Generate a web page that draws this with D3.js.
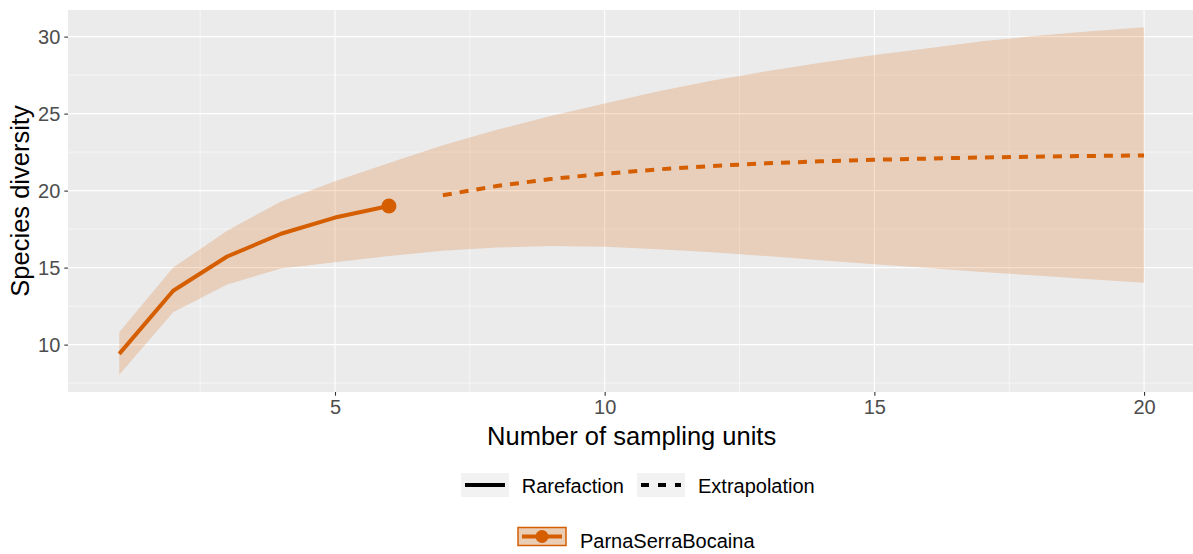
<!DOCTYPE html>
<html>
<head>
<meta charset="utf-8">
<script src="https://cdn.jsdelivr.net/npm/d3@7"></script>
<style>
  html, body { margin: 0; padding: 0; background: #ffffff; }
  svg { display: block; font-family: "Liberation Sans", Arial, Helvetica, sans-serif; }
</style>
</head>
<body>
<svg id="chart" width="1193" height="554"></svg>
<script>
// Sample-based rarefaction / extrapolation curve (iNEXT style)
const samplingUnits = [1, 2, 3, 4, 5, 6, 7, 8, 9, 10, 11, 12, 13, 14, 15, 16, 17, 18, 19, 20];
const lowerCI = [8.05, 12.1, 13.9, 14.95, 15.35, 15.75, 16.1, 16.3, 16.4, 16.35, 16.2, 16.0, 15.75, 15.48, 15.22, 14.97, 14.72, 14.48, 14.25, 14.02];
const upperCI = [10.8, 15.0, 17.4, 19.3, 20.6, 21.8, 22.95, 23.95, 24.85, 25.65, 26.45, 27.15, 27.75, 28.3, 28.8, 29.25, 29.7, 30.05, 30.35, 30.6];

const rarefactionUnits = [1, 2, 3, 4, 5, 6];
const rarefactionDiversity = [9.4, 13.5, 15.72, 17.2, 18.25, 19.0];

const extrapolationUnits = [7, 8, 9, 10, 11, 12, 13, 14, 15, 16, 17, 18, 19, 20];
const extrapolationDiversity = [19.7, 20.3, 20.75, 21.1, 21.38, 21.6, 21.77, 21.9, 22.0, 22.08, 22.15, 22.2, 22.25, 22.28];

const observedUnits = [6];
const observedDiversity = [19.0];

const xTicks = [5, 10, 15, 20];
const yTicks = [10, 15, 20, 25, 30];
const xMinor = [2.5, 7.5, 12.5, 17.5];
const yMinor = [7.5, 12.5, 17.5, 22.5, 27.5];

const siteName = "ParnaSerraBocaina";
const methodLabels = ["Rarefaction", "Extrapolation"];

const orange = "#D55E00";

const svg = d3.select("#chart");
const panel = { left: 68, right: 1195.3, top: 10, bottom: 392 };

// ggplot-like 5% expansion on both scales
function expand(ext) {
  const pad = (ext[1] - ext[0]) * 0.05;
  return [ext[0] - pad, ext[1] + pad];
}
const x = d3.scaleLinear()
  .domain(expand(d3.extent(samplingUnits)))
  .range([panel.left, panel.right]);
const y = d3.scaleLinear()
  .domain(expand([d3.min(lowerCI), d3.max(upperCI)]))
  .range([panel.bottom, panel.top]);

// panel background
svg.append("rect")
  .attr("x", panel.left).attr("y", panel.top)
  .attr("width", panel.right - panel.left).attr("height", panel.bottom - panel.top)
  .attr("fill", "#EBEBEB");

const grid = svg.append("g");
grid.selectAll(".xminor").data(xMinor).join("line")
  .attr("x1", d => x(d)).attr("x2", d => x(d))
  .attr("y1", panel.top).attr("y2", panel.bottom)
  .attr("stroke", "#fff").attr("stroke-width", 0.55);
grid.selectAll(".yminor").data(yMinor).join("line")
  .attr("y1", d => y(d)).attr("y2", d => y(d))
  .attr("x1", panel.left).attr("x2", panel.right)
  .attr("stroke", "#fff").attr("stroke-width", 0.55);
grid.selectAll(".xmajor").data(xTicks).join("line")
  .attr("x1", d => x(d)).attr("x2", d => x(d))
  .attr("y1", panel.top).attr("y2", panel.bottom)
  .attr("stroke", "#fff").attr("stroke-width", 1.1);
grid.selectAll(".ymajor").data(yTicks).join("line")
  .attr("y1", d => y(d)).attr("y2", d => y(d))
  .attr("x1", panel.left).attr("x2", panel.right)
  .attr("stroke", "#fff").attr("stroke-width", 1.1);

// confidence band
const band = samplingUnits.map((t, i) => ({ t, lo: lowerCI[i], hi: upperCI[i] }));
svg.append("path")
  .datum(band)
  .attr("d", d3.area().x(d => x(d.t)).y0(d => y(d.lo)).y1(d => y(d.hi)))
  .attr("fill", orange).attr("fill-opacity", 0.2);

// rarefaction (solid)
const line = d3.line().x(d => x(d[0])).y(d => y(d[1]));
svg.append("path")
  .datum(d3.zip(rarefactionUnits, rarefactionDiversity))
  .attr("d", line)
  .attr("fill", "none").attr("stroke", orange).attr("stroke-width", 4)
  .attr("stroke-linejoin", "round");

// extrapolation (dashed)
svg.append("path")
  .datum(d3.zip(extrapolationUnits, extrapolationDiversity))
  .attr("d", line)
  .attr("fill", "none").attr("stroke", orange).attr("stroke-width", 4)
  .attr("stroke-dasharray", "9,8");

// observed point
svg.selectAll(".obs").data(d3.zip(observedUnits, observedDiversity)).join("circle")
  .attr("cx", d => x(d[0])).attr("cy", d => y(d[1])).attr("r", 7.5)
  .attr("fill", orange);

// axes
const xAxis = svg.append("g")
  .attr("transform", `translate(0,${panel.bottom})`)
  .call(d3.axisBottom(x).tickValues(xTicks).tickSize(3.7).tickPadding(4));
const yAxis = svg.append("g")
  .attr("transform", `translate(${panel.left},0)`)
  .call(d3.axisLeft(y).tickValues(yTicks).tickSize(3.7).tickPadding(4));
[xAxis, yAxis].forEach(g => {
  g.select(".domain").remove();
  g.selectAll(".tick line").attr("stroke", "#333333").attr("stroke-width", 1.1);
  g.selectAll(".tick text").attr("fill", "#4D4D4D")
    .style("font-size", "20px").style("font-family", "Liberation Sans, Arial, sans-serif");
});

// axis titles
svg.append("text")
  .attr("x", (panel.left + panel.right) / 2).attr("y", 445)
  .attr("text-anchor", "middle").attr("font-size", 25.5).attr("fill", "#000")
  .text("Number of sampling units");
svg.append("text")
  .attr("transform", `translate(28.5,${(panel.top + panel.bottom) / 2}) rotate(-90)`)
  .attr("text-anchor", "middle").attr("font-size", 25.5).attr("fill", "#000")
  .text("Species diversity");

// legend: method
const legend1 = svg.append("g");
const keyX = [461, 637];
const textX = [521.7, 698];
methodLabels.forEach((label, i) => {
  legend1.append("rect")
    .attr("x", keyX[i]).attr("y", 473).attr("width", 48).attr("height", 24)
    .attr("fill", "#F2F2F2");
  legend1.append("line")
    .attr("x1", keyX[i] + 4).attr("x2", keyX[i] + 44)
    .attr("y1", 485).attr("y2", 485)
    .attr("stroke", "#000").attr("stroke-width", 4)
    .attr("stroke-dasharray", i === 1 ? "8,9" : null);
  legend1.append("text")
    .attr("x", textX[i]).attr("y", 493)
    .attr("font-size", 20).attr("fill", "#000")
    .text(label);
});

// legend: assemblage
const legend2 = svg.append("g");
legend2.append("rect")
  .attr("x", 518).attr("y", 527.5).attr("width", 48).attr("height", 18)
  .attr("fill", "#F2F2F2");
legend2.append("rect")
  .attr("x", 518).attr("y", 527.5).attr("width", 48).attr("height", 18)
  .attr("fill", orange).attr("fill-opacity", 0.25)
  .attr("stroke", orange).attr("stroke-width", 1.5);
legend2.append("line")
  .attr("x1", 522).attr("x2", 562).attr("y1", 536.5).attr("y2", 536.5)
  .attr("stroke", orange).attr("stroke-width", 4);
legend2.append("circle")
  .attr("cx", 542).attr("cy", 536.5).attr("r", 6.5).attr("fill", orange);
legend2.append("text")
  .attr("x", 580).attr("y", 547.5)
  .attr("font-size", 20).attr("fill", "#000")
  .text(siteName);
</script>
</body>
</html>
